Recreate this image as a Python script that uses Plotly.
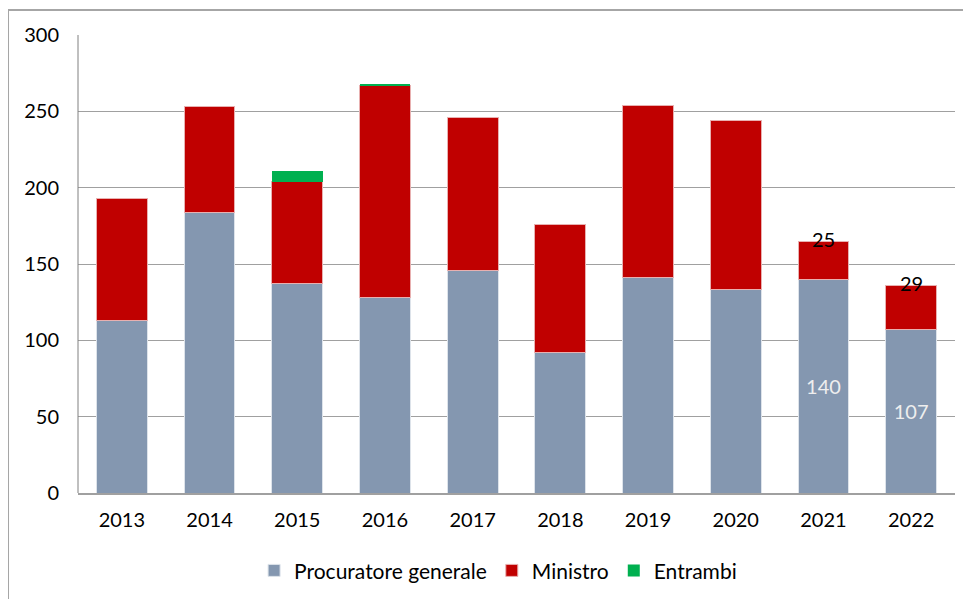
import plotly.graph_objects as go

years = ["2013", "2014", "2015", "2016", "2017", "2018", "2019", "2020", "2021", "2022"]
procuratore = [113, 184, 137, 128, 146, 92, 141, 133, 140, 107]
ministro = [80, 69, 67, 139, 100, 84, 113, 111, 25, 29]
entrambi = [0, 0, 7, 1, 0, 0, 0, 0, 0, 0]

# etichette mostrate solo per gli ultimi due anni
proc_labels = ["", "", "", "", "", "", "", "", "140", "107"]

font_family = "Lato, 'Open Sans', sans-serif"

fig = go.Figure()

fig.add_trace(go.Bar(
    x=years, y=procuratore, name="Procuratore generale",
    marker=dict(color="#8497b0", line=dict(width=1, color="#dde3ea")),
    text=proc_labels, textposition="inside", insidetextanchor="middle",
    textfont=dict(color="#eeeeee", size=20, family=font_family),
    textangle=0,
))
fig.add_trace(go.Bar(
    x=years, y=ministro, name="Ministro",
    marker=dict(color="#c00000", line=dict(width=1, color="#e8b0b0")),
))
fig.add_trace(go.Bar(
    x=years, y=entrambi, name="Entrambi",
    marker=dict(color="#00b050", line=dict(width=0)),
))

# etichette del Ministro per 2021 e 2022, in cima alla barra
# (x come indice di categoria: le stringhe numeriche verrebbero lette come numeri)
for i in (8, 9):
    fig.add_annotation(
        x=i, y=procuratore[i] + ministro[i] + entrambi[i],
        text=str(ministro[i]), showarrow=False, yanchor="middle", yshift=2,
        font=dict(color="black", size=20, family=font_family),
    )

fig.update_layout(
    barmode="stack",
    bargap=0.42,
    width=963, height=591,
    margin=dict(l=70, r=16, t=27, b=106, autoexpand=False),
    plot_bgcolor="white",
    paper_bgcolor="white",
    font=dict(family=font_family, size=20, color="black"),
    legend=dict(
        orientation="h", x=0.479, xanchor="center", y=-0.125, yanchor="top",
        font=dict(size=21), traceorder="normal",
    ),
    shapes=[
        dict(type="rect", xref="paper", yref="paper",
             x0=-0.0798, x1=1.2, y0=-0.4, y1=1.0546,
             line=dict(color="#a6a6a6", width=2), layer="below"),
        dict(type="line", xref="paper", yref="paper",
             x0=0, x1=0, y0=0, y1=1,
             line=dict(color="#808080", width=1)),
    ],
)

fig.update_yaxes(
    range=[0, 300], dtick=50, showgrid=True, gridcolor="#a0a0a0", gridwidth=1,
    zeroline=False, showline=False, ticks="", ticklabelstandoff=18,
    tickfont=dict(size=20),
)
fig.update_xaxes(
    type="category",
    showline=True, linecolor="#a0a0a0", linewidth=1.5, ticks="",
    tickfont=dict(size=20), ticklabelstandoff=8,
)

fig.write_html("out.html")
